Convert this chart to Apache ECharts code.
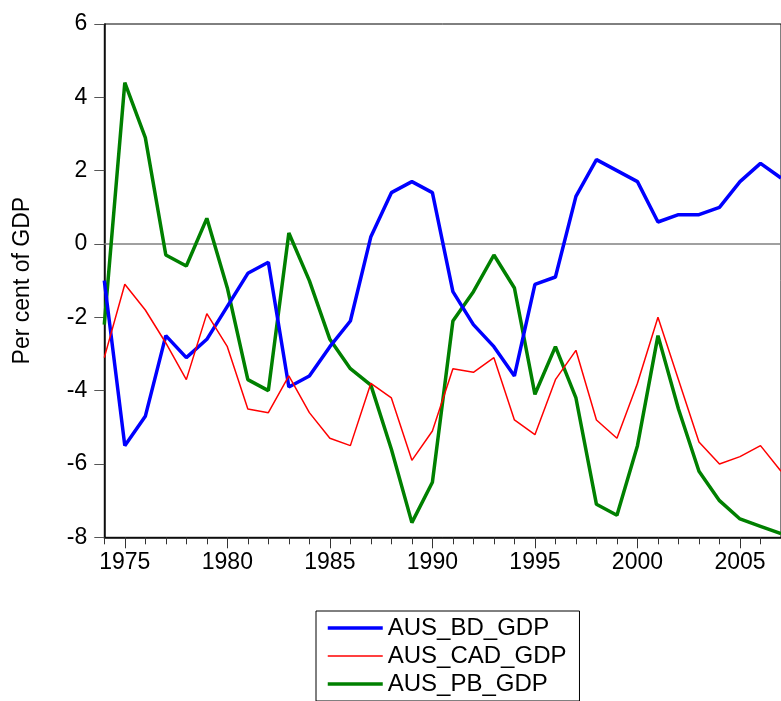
<!DOCTYPE html>
<html>
<head>
<meta charset="utf-8">
<script src="https://cdn.jsdelivr.net/npm/echarts@6/dist/echarts.min.js"></script>
<style>
html,body{margin:0;padding:0;background:#fff;}
#main{width:781px;height:701px;}
</style>
</head>
<body>
<div id="main"></div>
<script>
var years = [];
for (var y = 1974; y <= 2007; y++) years.push(String(y));

var bdGdp = [-1.0, -5.5, -4.7, -2.5, -3.1, -2.6, -1.7, -0.8, -0.5, -3.9,
  -3.6, -2.8, -2.1, 0.2, 1.4, 1.7, 1.4, -1.3, -2.2, -2.8,
  -3.6, -1.1, -0.9, 1.3, 2.3, 2.0, 1.7, 0.6, 0.8, 0.8,
  1.0, 1.7, 2.2, 1.8];

var cadGdp = [-3.1, -1.1, -1.8, -2.7, -3.7, -1.9, -2.8, -4.5, -4.6, -3.6,
  -4.6, -5.3, -5.5, -3.8, -4.2, -5.9, -5.1, -3.4, -3.5, -3.1,
  -4.8, -5.2, -3.7, -2.9, -4.8, -5.3, -3.8, -2.0, -3.7, -5.4,
  -6.0, -5.8, -5.5, -6.2];

var pbGdp = [-2.2, 4.4, 2.9, -0.3, -0.6, 0.7, -1.2, -3.7, -4.0, 0.3,
  -1.0, -2.6, -3.4, -3.85, -5.6, -7.6, -6.5, -2.1, -1.3, -0.3,
  -1.2, -4.1, -2.8, -4.2, -7.1, -7.4, -5.5, -2.5, -4.5, -6.2,
  -7.0, -7.5, -7.7, -7.9];

var seriesNames = ['AUS_BD_GDP', 'AUS_CAD_GDP', 'AUS_PB_GDP'];
var seriesColors = ['#0000FF', '#FF0000', '#008000'];
var seriesWidths = [3.5, 1.5, 3.5];
var yLabel = 'Per cent of GDP';

var FONT = '"Liberation Sans", Arial, sans-serif';
var chart = echarts.init(document.getElementById('main'));

chart.setOption({
  animation: false,
  backgroundColor: '#fff',
  grid: {
    left: 104.3, top: 24, right: -9.7, bottom: 163.7,
    show: true, borderColor: '#000', borderWidth: 1, backgroundColor: 'transparent'
  },
  legend: {
    orient: 'vertical',
    left: 316, top: 611,
    padding: [5, 13, 5, 10],
    itemWidth: 55, itemHeight: 14, itemGap: 4,
    borderColor: '#000', borderWidth: 1,
    backgroundColor: '#fff',
    itemStyle: {opacity: 0, borderWidth: 0},
    data: seriesNames.map(function(n, i){
      return {name: n, lineStyle: {width: seriesWidths[i], color: seriesColors[i], opacity: 1}};
    }),
    textStyle: {fontFamily: FONT, fontSize: 24, color: '#000'}
  },
  xAxis: [{
    type: 'category', data: years, boundaryGap: false,
    axisLine: {onZero: false, lineStyle: {color: '#000', width: 1.5}},
    axisTick: {show: true, interval: 0, length: 7, lineStyle: {color: '#333'}},
    axisLabel: {show: false},
    splitLine: {show: false}
  }, {
    type: 'category', data: years, boundaryGap: false, position: 'bottom',
    axisLine: {show: false, onZero: false},
    axisTick: {show: true, length: 11, lineStyle: {color: '#333'},
      interval: function(i, v){ return Number(v) % 5 === 0; }},
    axisLabel: {show: true, margin: 14, fontFamily: FONT, fontSize: 23, color: '#000',
      interval: function(i, v){ return Number(v) % 5 === 0; }},
    splitLine: {show: false}
  }],
  yAxis: {
    type: 'value', min: -8, max: 6, interval: 2,
    name: yLabel, nameLocation: 'middle', nameRotate: 90, nameGap: 70,
    nameTextStyle: {fontFamily: FONT, fontSize: 23, color: '#000'},
    axisLine: {show: true, onZero: false, lineStyle: {color: '#000', width: 1.5}},
    axisTick: {show: true, length: 10, lineStyle: {color: '#555'}},
    axisLabel: {margin: 17, fontFamily: FONT, fontSize: 23, color: '#000'},
    splitLine: {show: false}
  },
  series: [{
    name: seriesNames[0], type: 'line', data: bdGdp, symbol: 'none',
    lineStyle: {color: seriesColors[0], width: seriesWidths[0]}, itemStyle: {color: seriesColors[0]},
    z: 3,
    markLine: {
      silent: true, symbol: 'none', label: {show: false},
      lineStyle: {color: '#808080', width: 1.5, type: 'solid'},
      emphasis: {disabled: true},
      data: [{yAxis: 0}], z: 1
    }
  }, {
    name: seriesNames[1], type: 'line', data: cadGdp, symbol: 'none',
    lineStyle: {color: seriesColors[1], width: seriesWidths[1]}, itemStyle: {color: seriesColors[1]}, z: 4
  }, {
    name: seriesNames[2], type: 'line', data: pbGdp, symbol: 'none',
    lineStyle: {color: seriesColors[2], width: seriesWidths[2]}, itemStyle: {color: seriesColors[2]}, z: 2
  }]
});
</script>
</body>
</html>
